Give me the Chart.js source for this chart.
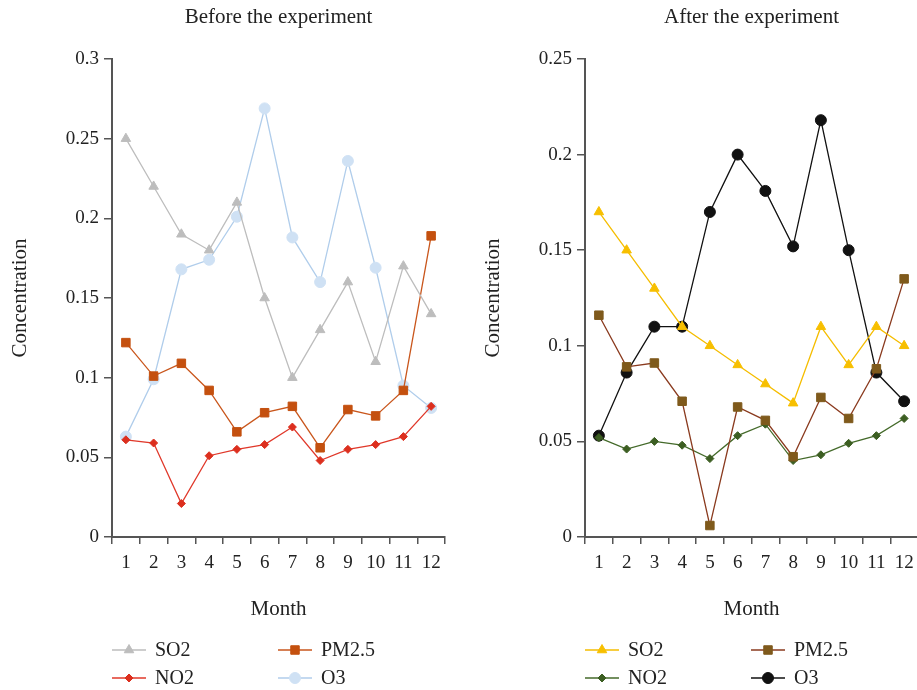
<!DOCTYPE html>
<html>
<head>
<meta charset="utf-8">
<script src="https://cdn.jsdelivr.net/npm/chart.js@4.4.0/dist/chart.umd.min.js"></script>
<style>
  html, body { margin: 0; padding: 0; background: #fff; overflow: hidden; }
  #wrap { position: relative; width: 917px; height: 690px; overflow: hidden; }
  .box { position: absolute; top: 0; height: 690px; }
</style>
</head>
<body>
<div id="wrap">
  <div class="box" style="left:0;width:458px"><canvas id="before"></canvas></div>
  <div class="box" style="left:473px;width:452px"><canvas id="after"></canvas></div>
</div>
<script>
const months = ['1', '2', '3', '4', '5', '6', '7', '8', '9', '10', '11', '12'];
const seriesNames = ['SO2', 'PM2.5', 'NO2', 'O3'];

// before the experiment
const beforeSO2 = [0.25, 0.22, 0.19, 0.18, 0.21, 0.15, 0.10, 0.13, 0.16, 0.11, 0.17, 0.14];
const beforePM25 = [0.122, 0.101, 0.109, 0.092, 0.066, 0.078, 0.082, 0.056, 0.080, 0.076, 0.092, 0.189];
const beforeNO2 = [0.061, 0.059, 0.021, 0.051, 0.055, 0.058, 0.069, 0.048, 0.055, 0.058, 0.063, 0.082];
const beforeO3 = [0.063, 0.099, 0.168, 0.174, 0.201, 0.269, 0.188, 0.160, 0.236, 0.169, 0.095, 0.081];

// after the experiment
const afterSO2 = [0.17, 0.15, 0.13, 0.11, 0.10, 0.09, 0.08, 0.07, 0.11, 0.09, 0.11, 0.10];
const afterPM25 = [0.116, 0.089, 0.091, 0.071, 0.006, 0.068, 0.061, 0.042, 0.073, 0.062, 0.088, 0.135];
const afterNO2 = [0.052, 0.046, 0.050, 0.048, 0.041, 0.053, 0.059, 0.040, 0.043, 0.049, 0.053, 0.062];
const afterO3 = [0.053, 0.086, 0.110, 0.110, 0.170, 0.200, 0.181, 0.152, 0.218, 0.150, 0.086, 0.071];

const serif = "'Liberation Serif', 'DejaVu Serif', serif";
const axisColor = '#555';
const textColor = '#222';

// title centred over the plot area, legend in two columns below the x axis
const framePlugin = {
  id: 'frame',
  afterDraw(chart) {
    const ctx = chart.ctx;
    const area = chart.chartArea;
    ctx.save();
    ctx.fillStyle = textColor;
    ctx.font = '21px ' + serif;
    ctx.textAlign = 'center';
    ctx.textBaseline = 'middle';
    ctx.fillText(chart.options.plugins.frame.title, (area.left + area.right) / 2, 17);
    ctx.restore();

    const rows = [650, 678];
    const cols = [area.left, area.left + 166];
    chart.data.datasets.forEach((ds, i) => {
      const x = cols[i % 2];
      const y = rows[Math.floor(i / 2)];
      ctx.save();
      ctx.strokeStyle = ds.borderColor;
      ctx.lineWidth = 1.6;
      ctx.beginPath();
      ctx.moveTo(x, y);
      ctx.lineTo(x + 34, y);
      ctx.stroke();
      ctx.fillStyle = ds.pointBackgroundColor;
      ctx.strokeStyle = ds.pointBorderColor;
      ctx.lineWidth = 1;
      Chart.helpers.drawPoint(ctx, {
        pointStyle: ds.pointStyle,
        radius: ds.pointRadius,
        borderWidth: 1,
        rotation: 0
      }, x + 17, y);
      ctx.fillStyle = textColor;
      ctx.font = '20px ' + serif;
      ctx.textBaseline = 'middle';
      ctx.textAlign = 'left';
      ctx.fillText(ds.label, x + 43, y + 1);
      ctx.restore();
    });
  }
};

function makeChart(id, title, yMax, data, styles) {
  const datasets = data.map((values, i) => ({
    label: seriesNames[i],
    data: values,
    borderColor: styles[i].line,
    borderWidth: 1.3,
    pointStyle: styles[i].shape,
    pointRadius: styles[i].r,
    pointBackgroundColor: styles[i].point,
    pointBorderColor: styles[i].point,
    pointBorderWidth: 1,
    tension: 0
  }));

  return new Chart(document.getElementById(id), {
    type: 'line',
    data: { labels: months, datasets: datasets },
    options: {
      responsive: true,
      maintainAspectRatio: false,
      animation: false,
      layout: { padding: { left: 0, right: id === 'before' ? 13 : 0, top: 59, bottom: 68 } },
      plugins: {
        legend: { display: false },
        tooltip: { enabled: false },
        title: { display: false },
        frame: { title: title }
      },
      scales: {
        x: {
          offset: true,
          grid: { offset: true, drawOnChartArea: false, drawTicks: true, tickLength: 7, color: axisColor, lineWidth: 1.5 },
          border: { color: axisColor, width: 2 },
          ticks: { color: textColor, font: { family: serif, size: 19 }, padding: 8, maxRotation: 0, autoSkip: false },
          title: { display: true, text: 'Month', color: textColor, font: { family: serif, size: 21 }, padding: { top: 0, bottom: 0 } },
          afterFit(scale) { scale.height = 85; }
        },
        y: {
          min: 0,
          max: yMax,
          grid: { drawOnChartArea: false, drawTicks: true, tickLength: 8, color: axisColor, lineWidth: 1.5 },
          border: { color: axisColor, width: 2 },
          ticks: { stepSize: 0.05, color: textColor, font: { family: serif, size: 19 }, padding: 5,
                   callback: v => String(Math.round(v * 100) / 100) },
          title: { display: true, text: 'Concentration', color: textColor, font: { family: serif, size: 21 }, padding: { top: 8, bottom: 0 } },
          afterFit(scale) { scale.width = 112; }
        }
      }
    },
    plugins: [framePlugin]
  });
}

makeChart('before', 'Before the experiment', 0.3,
  [beforeSO2, beforePM25, beforeNO2, beforeO3],
  [
    { line: '#bdbdbd', point: '#bdbdbd', shape: 'triangle', r: 5.5 },
    { line: '#c9561c', point: '#c4500f', shape: 'rect', r: 6 },
    { line: '#e0382a', point: '#dc2f1e', shape: 'rectRot', r: 4 },
    { line: '#b0cdeb', point: '#cfe1f4', shape: 'circle', r: 5.5 }
  ]);

makeChart('after', 'After the experiment', 0.25,
  [afterSO2, afterPM25, afterNO2, afterO3],
  [
    { line: '#f5bd00', point: '#f7bf00', shape: 'triangle', r: 5.5 },
    { line: '#8a3a1e', point: '#7f5a1c', shape: 'rect', r: 6 },
    { line: '#446a2a', point: '#3c5e22', shape: 'rectRot', r: 4 },
    { line: '#111111', point: '#111111', shape: 'circle', r: 5.5 }
  ]);
</script>
</body>
</html>
